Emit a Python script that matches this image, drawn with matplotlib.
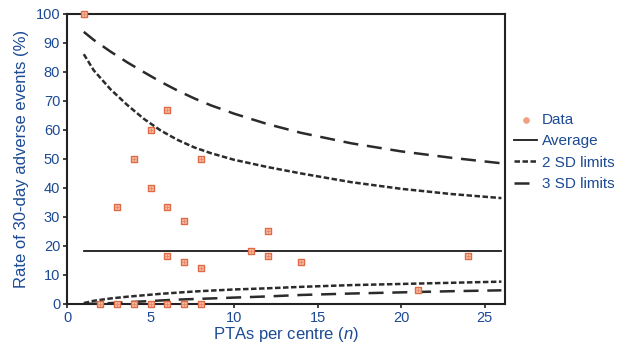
import matplotlib
matplotlib.use("Agg")
import matplotlib.pyplot as plt

plt.rcParams["font.family"] = ["Liberation Sans", "DejaVu Sans"]
plt.rcParams["mathtext.fontset"] = "custom"
plt.rcParams["mathtext.rm"] = "Liberation Sans"
plt.rcParams["mathtext.it"] = "Liberation Sans:italic"

# Data points (PTAs per centre, adverse event rate %)
data_n = [1, 2, 3, 3, 4, 4, 5, 5, 5, 6, 6, 6, 6, 7, 7, 7, 8, 8, 8, 11, 12, 12, 14, 21, 24]
data_rate = [100, 0, 0, 33.3, 0, 50, 0, 40, 60, 0, 16.7, 33.3, 66.7, 0, 14.3, 28.6,
             0, 12.5, 50, 18.2, 16.7, 25, 14.3, 4.8, 16.7]

average_rate = 18.2
avg_n = [1, 26]

# Control limits
lim_n = [1, 1.6, 2.6, 3.6, 4.6, 5.6, 6.6, 7.6, 8.6, 10, 12, 14, 17, 20, 23, 26]
upper3 = [93.8, 91.0, 87.0, 83.3, 79.9, 76.6, 73.6, 70.9, 68.5, 65.6, 62.0, 59.0, 55.4, 52.6, 50.4, 48.5]
upper2 = [86.1, 80.5, 74.0, 68.6, 63.8, 59.8, 56.6, 54.0, 52.0, 49.7, 47.2, 45.0, 42.0, 39.7, 37.9, 36.5]
lower2 = [0.3, 1.1, 1.9, 2.5, 3.0, 3.5, 3.9, 4.3, 4.6, 5.0, 5.4, 5.9, 6.5, 6.9, 7.3, 7.7]
lower3 = [0.0, 0.1, 0.3, 0.6, 0.9, 1.2, 1.5, 1.7, 1.9, 2.2, 2.6, 3.1, 3.6, 4.0, 4.4, 4.7]

x_ticks = [0, 5, 10, 15, 20, 25]
y_ticks = [0, 10, 20, 30, 40, 50, 60, 70, 80, 90, 100]

text_color = "#1c4a94"
line_color = "#2b2b2b"

fig = plt.figure(figsize=(6.27, 3.47), dpi=100)
ax = fig.add_axes([0.107, 0.124, 0.698, 0.836])

ax.plot(avg_n, [average_rate, average_rate], color="#1a1a1a", lw=1.3, label="Average")
ax.plot(lim_n, upper2, color=line_color, lw=1.8, linestyle=(0, (2.2, 1.0)), label="2 SD limits")
ax.plot(lim_n, lower2, color=line_color, lw=1.8, linestyle=(0, (2.2, 1.0)))
ax.plot(lim_n, upper3, color=line_color, lw=1.8, linestyle=(0, (6, 3.5)), label="3 SD limits")
ax.plot(lim_n, lower3, color=line_color, lw=1.8, linestyle=(0, (6, 3.5)))

ax.scatter(data_n, data_rate, marker="s", s=20, facecolor="#f6c2a8", edgecolor="#e06a45",
           linewidth=1.0, zorder=5, clip_on=False)
ax.scatter(data_n, data_rate, marker="+", s=12, color="#e88a68", linewidth=0.8,
           zorder=6, clip_on=False)

# legend proxy for data
ax.scatter([], [], marker="o", s=14, color="#f0a080", label="Data")

ax.set_xlim(0, 26.2)
ax.set_ylim(0, 100)
ax.set_xticks(x_ticks)
ax.set_yticks(y_ticks)

for s in ax.spines.values():
    s.set_linewidth(1.5)
    s.set_color("#222222")

ax.tick_params(axis="both", colors="#222222", labelcolor=text_color, labelsize=10.5,
               direction="out", length=3, width=1.2, pad=2)

ax.set_xlabel("PTAs per centre ($n$)", color=text_color, fontsize=12, labelpad=0)
ax.set_ylabel("Rate of 30-day adverse events (%)", color=text_color, fontsize=12, labelpad=5)

handles, labels = ax.get_legend_handles_labels()
order = ["Data", "Average", "2 SD limits", "3 SD limits"]
hmap = dict(zip(labels, handles))
leg = ax.legend([hmap[k] for k in order], order, loc="upper left",
                bbox_to_anchor=(1.022, 0.66), frameon=False, fontsize=11,
                handlelength=1.5, handletextpad=0.3, labelspacing=0.5,
                borderaxespad=0.0, borderpad=0.0)
for t in leg.get_texts():
    t.set_color(text_color)

fig.savefig("out.png", dpi=100)
